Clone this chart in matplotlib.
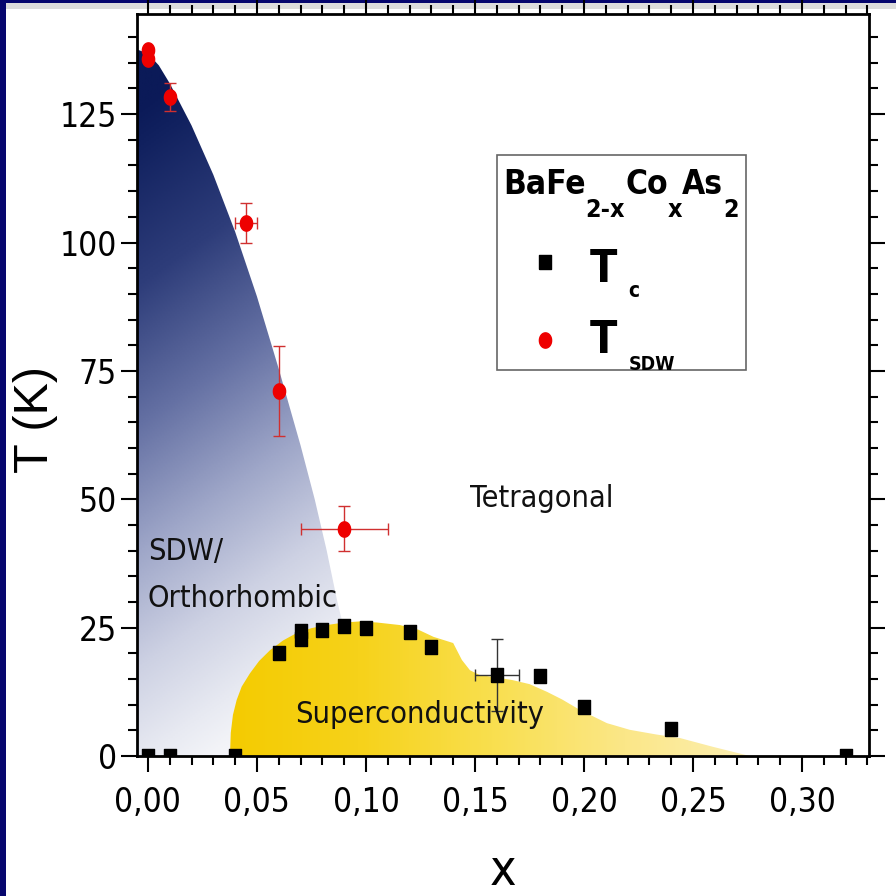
import numpy as np
import matplotlib
matplotlib.use("Agg")
import matplotlib.pyplot as plt
from matplotlib.colors import LinearSegmentedColormap
from matplotlib.patches import Polygon, Rectangle
from matplotlib.ticker import MultipleLocator, FuncFormatter

# T_c, black squares
tc_x = [0.00, 0.01, 0.04, 0.06, 0.07, 0.07, 0.08, 0.09, 0.10, 0.12, 0.13, 0.16, 0.18, 0.20, 0.24, 0.32]
tc_T = [0.0, 0.0, 0.0, 20.0, 22.8, 24.3, 24.5, 25.3, 25.0, 24.2, 21.2, 15.8, 15.6, 9.6, 5.2, 0.0]
tc_xerr = [0, 0, 0, 0, 0, 0, 0, 0, 0, 0, 0, 0.010, 0, 0, 0, 0]
tc_yerr = [0, 0, 0, 0, 0, 0, 0, 0, 0, 0, 0, 7.0, 0, 0, 0, 0]

# T_SDW, red circles
sdw_x = [0.000, 0.000, 0.010, 0.045, 0.060, 0.090]
sdw_T = [137.5, 135.8, 128.4, 103.8, 71.1, 44.3]
sdw_xerr = [0, 0, 0, 0.005, 0, 0.020]
sdw_yerr = [0, 0, 2.7, 3.9, 8.7, 4.4]

# outline of the SDW/orthorhombic region (upper edge, then down under the dome)
sdw_edge_x = [-0.005, 0.000, 0.005, 0.010, 0.020, 0.030, 0.040, 0.050, 0.060, 0.070,
              0.0765, 0.082, 0.0867, 0.092, 0.100]
sdw_edge_T = [137.6, 136.8, 134.5, 131.0, 122.8, 113.2, 102.1, 89.5, 75.4, 60.5,
              50.0, 40.0, 30.4, 21.0, 0.0]

# outline of the superconducting dome
dome_x = [0.0376, 0.0378, 0.0380, 0.0390, 0.0407, 0.0430, 0.0468, 0.0510, 0.0560, 0.0620,
          0.0680, 0.0750, 0.0820, 0.0900, 0.0970, 0.1050, 0.1156, 0.1240, 0.1310, 0.1400,
          0.1440, 0.1477, 0.1520, 0.1670, 0.1750, 0.1830, 0.1900, 0.1980, 0.2105, 0.2210,
          0.2330, 0.2440, 0.2590, 0.2760]
dome_T = [0.0, 2.0, 4.5, 8.0, 10.9, 13.5, 16.1, 18.5, 20.6, 22.5,
          23.9, 24.9, 25.5, 26.0, 26.2, 26.0, 25.5, 24.6, 23.2, 22.0,
          18.7, 16.7, 15.8, 14.8, 14.0, 12.5, 11.0, 9.0, 6.4, 5.1,
          4.2, 3.5, 1.8, 0.0]

XMIN, XMAX = -0.005, 0.3307
YMIN, YMAX = 0.0, 144.5

NAVY = "#06066e"
COND = dict(family="DejaVu Sans", fontstretch="condensed")

fig = plt.figure(figsize=(8.96, 8.96), dpi=100, facecolor="white")

# slide frame: navy edge on the left and top, grey strip under the top edge
fig.patches.append(Rectangle((0, 1 - 9 / 896), 1, 6 / 896, transform=fig.transFigure,
                             facecolor="#dcdcdc", edgecolor="none", zorder=-5))
fig.patches.append(Rectangle((0, 1 - 3 / 896), 1, 3 / 896, transform=fig.transFigure,
                             facecolor=NAVY, edgecolor="none", zorder=-4))
fig.patches.append(Rectangle((0, 0), 6 / 896, 1, transform=fig.transFigure,
                             facecolor=NAVY, edgecolor="none", zorder=-3))

ax = fig.add_axes([137 / 896, 1 - 756 / 896, 732 / 896, 742 / 896])

# gradient fill of the SDW region, dark at high T, fading toward the bottom
gx, gy = np.meshgrid(np.linspace(XMIN, 0.11, 300), np.linspace(YMIN, 140, 400))
shade = np.clip(gy / 137.0 + 2.2 * (0.03 - gx), 0, 1)
blue_cmap = LinearSegmentedColormap.from_list(
    "sdw", [(0.0, "#f3f4f8"), (0.066, "#e8eaf2"), (0.2, "#cdd1e3"), (0.365, "#9ea6c8"),
            (0.547, "#6470a3"), (0.745, "#2e3d7a"), (0.95, "#10205e"), (1.0, "#0b1a58")])
sdw_poly = Polygon(list(zip(sdw_edge_x, sdw_edge_T)) + [(XMIN, 0.0)], closed=True,
                   facecolor="none", edgecolor="none")
ax.add_patch(sdw_poly)
im = ax.imshow(shade, extent=[XMIN, 0.11, YMIN, 140], origin="lower",
               cmap=blue_cmap, vmin=0, vmax=1, aspect="auto", zorder=1)
im.set_clip_path(sdw_poly)

# superconducting dome, gold on the left turning pale yellow to the right
dx_, dy_ = np.meshgrid(np.linspace(0.035, 0.28, 300), np.linspace(0, 27, 50))
yellow_cmap = LinearSegmentedColormap.from_list(
    "sc", ["#f4cb00", "#f6d21a", "#f9df4e", "#fbe788", "#fcefb4"])
dome_poly = Polygon(list(zip(dome_x, dome_T)), closed=True,
                    facecolor="none", edgecolor="none")
ax.add_patch(dome_poly)
im2 = ax.imshow((dx_ - 0.035) / (0.28 - 0.035), extent=[0.035, 0.28, 0, 27],
                origin="lower", cmap=yellow_cmap, vmin=0, vmax=1, aspect="auto", zorder=2)
im2.set_clip_path(dome_poly)

# markers: slightly tall squares and ellipses
sq = [(-0.42, -0.5), (0.42, -0.5), (0.42, 0.5), (-0.42, 0.5), (-0.42, -0.5)]
th = np.linspace(0, 2 * np.pi, 60)
ell = np.column_stack([0.8 * np.cos(th), np.sin(th)])

tcx, tcT = np.array(tc_x), np.array(tc_T)
tcxe, tcye = np.array(tc_xerr), np.array(tc_yerr)
m = (tcxe > 0) | (tcye > 0)
ax.errorbar(tcx[m], tcT[m], xerr=tcxe[m], yerr=tcye[m], fmt="none",
            ecolor="#333333", elinewidth=1.0, capsize=4.5, capthick=1.0, zorder=4)
ax.plot(tcx, tcT, linestyle="none", marker=sq, ms=9.5, color="black", zorder=5)

sx, sT = np.array(sdw_x), np.array(sdw_T)
sxe, sye = np.array(sdw_xerr), np.array(sdw_yerr)
m = (sxe > 0) | (sye > 0)
ax.errorbar(sx[m], sT[m], xerr=sxe[m], yerr=sye[m], fmt="none",
            ecolor="#d03030", elinewidth=1.0, capsize=4.5, capthick=1.0, zorder=4)
ax.plot(sx, sT, linestyle="none", marker=ell, ms=11, color="#ee0000", zorder=5)

# phase labels
region_font = dict(COND, fontsize=22, color="#111111", ha="left", va="baseline", zorder=6)
ax.text(0.1477, 48.5, "Tetragonal", **region_font)
ax.text(0.0000, 38.2, "SDW/", **region_font)
ax.text(0.0000, 29.0, "Orthorhombic", **region_font)
ax.text(0.0674, 6.4, "Superconductivity", **region_font)

ax.set_xlim(XMIN, XMAX)
ax.set_ylim(YMIN, YMAX)
ax.xaxis.set_major_locator(MultipleLocator(0.05))
ax.xaxis.set_minor_locator(MultipleLocator(0.01))
ax.yaxis.set_major_locator(MultipleLocator(25))
ax.yaxis.set_minor_locator(MultipleLocator(5))
ax.xaxis.set_major_formatter(FuncFormatter(lambda v, p: f"{v:.2f}".replace(".", ",")))
ax.yaxis.set_major_formatter(FuncFormatter(lambda v, p: f"{v:.0f}"))
ax.tick_params(which="both", direction="out", top=True, right=True,
               labeltop=False, labelright=False, width=1.5)
ax.tick_params(which="major", length=11.5, labelsize=24)
ax.tick_params(which="minor", length=6.5)
ax.tick_params(axis="x", which="major", pad=10)
ax.tick_params(axis="y", which="major", pad=3)
for lab in ax.get_xticklabels() + ax.get_yticklabels():
    lab.set_family("DejaVu Sans")
    lab.set_fontstretch("condensed")
for sp in ax.spines.values():
    sp.set_linewidth(2.0)
    sp.set_zorder(7)

fig.text(36 / 896, 1 - 419 / 896, "T (K)", rotation=90, ha="center", va="center",
         family="Liberation Sans", fontsize=35)
fig.text(503 / 896, 11 / 896, "x", ha="center", va="baseline", fontsize=36, **COND)

# legend box drawn by hand
ax.add_patch(Rectangle((0.4918, 0.52), 0.340, 0.29, transform=ax.transAxes,
                       facecolor="white", edgecolor="#666666", linewidth=1.2, zorder=8))


def chained_text(x, y, parts, **kw):
    """Write a formula piece by piece so subscripts can sit low."""
    prev = None
    for s, size, shift, gap in parts:
        if prev is None:
            prev = ax.text(x, y, s, transform=ax.transAxes, fontsize=size,
                           ha="left", va="baseline", zorder=9, **kw)
        else:
            prev = ax.annotate(s, xy=(1, y), xycoords=(prev, ax.transAxes),
                               xytext=(gap, shift), textcoords="offset points",
                               fontsize=size, ha="left", va="baseline", zorder=9, **kw)


bold = dict(COND, weight="bold")
chained_text(0.500, 0.758, [("BaFe", 24, 0, 0), ("2-x", 18, -17, 0), ("Co", 24, 0, 0),
                            ("x", 18, -17, 0), ("As", 24, 0, 0), ("2", 18, -17, 0)], **bold)
chained_text(0.6189, 0.6388, [("T", 32, 0, 0), ("c", 15, -11, 8)], **bold)
chained_text(0.6189, 0.5431, [("T", 32, 0, 0), ("SDW", 14, -12, 8)], **bold)

ax.plot([0.5574], [0.6658], transform=ax.transAxes, linestyle="none", marker=sq,
        ms=9.5, color="black", zorder=9, clip_on=False)
ax.plot([0.5574], [0.5606], transform=ax.transAxes, linestyle="none", marker=ell,
        ms=11, color="#ee0000", zorder=9, clip_on=False)

fig.savefig("out.png", dpi=100, facecolor="white")
